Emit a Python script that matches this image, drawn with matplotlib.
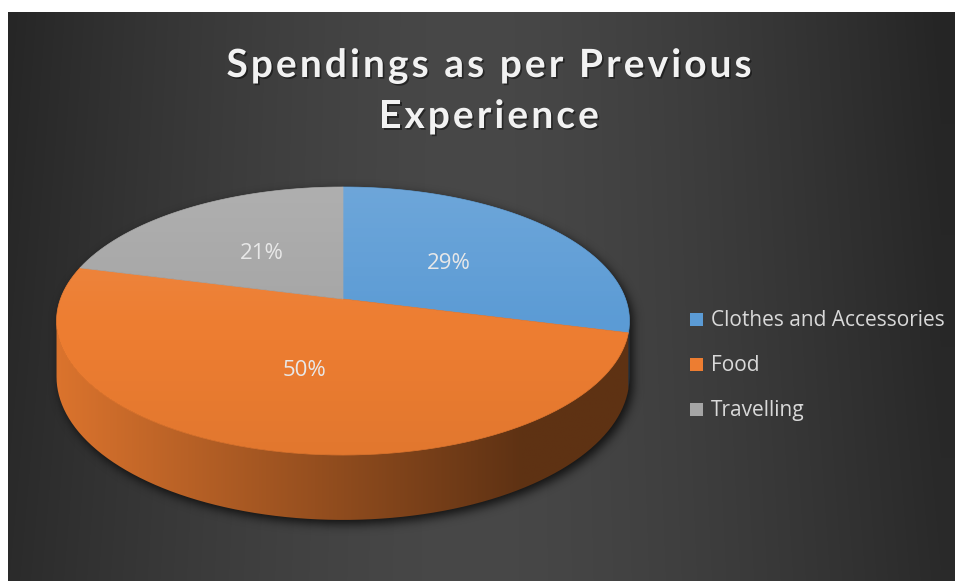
import numpy as np
import matplotlib
matplotlib.use("Agg")
import matplotlib.pyplot as plt
from matplotlib.path import Path
from matplotlib.patches import Polygon, Rectangle
from matplotlib.font_manager import FontProperties
import matplotlib.patheffects as pe

# spending shares (percent) per category
categories = ["Clothes and Accessories", "Food", "Travelling"]
shares = [29, 50, 21]
colors = ["#5B9BD5", "#ED7D31", "#A5A5A5"]
title_lines = ["Spendings as per Previous", "Experience"]

W, H = 955, 581
fig = plt.figure(figsize=(W / 100, H / 100), dpi=100)
fig.patch.set_facecolor("white")
ax = fig.add_axes([0, 0, 1, 1])
ax.axis("off")

# dark chart area, brightest in the middle and fading to the sides
x0, y0 = 8, 12
gx, gy = np.meshgrid(np.arange(x0, W) + 0.5, np.arange(y0, H) + 0.5)
t = np.clip(np.abs(gx - 470) / 470, 0, 1) ** 1.5
v = (0x48 - (0x48 - 0x25) * t) / 255 + 0.02 * (gy - y0) / (H - y0) * t
ax.imshow(np.dstack([v] * 3), extent=(x0, W, H, y0), aspect="auto",
          interpolation="bilinear", zorder=0)

# 3-D pie geometry (pixel space, perspective on the disk plane)
cx, cy = 343, 299
A, S, K = 282.6, 130.4, 0.164
DEPTH = 54.3


def proj(theta, r=1.0, z=0.0):
    px = r * np.sin(theta)
    py = r * np.cos(theta)
    d = 1 + K * py
    return cx + A * px / d, cy - (S * py + z) / d


def arc(a, b, z=0.0, n=200):
    th = np.linspace(a, b, max(int(n * (b - a) / (2 * np.pi)), 2) + 1)
    x, y = proj(th, 1.0, z)
    return np.column_stack([x, y])


fr = np.array(shares, dtype=float) / sum(shares)
edges = np.concatenate([[0], np.cumsum(fr)]) * 2 * np.pi
vis_a = np.arccos(-K)
vis_b = 2 * np.pi - vis_a

# soft drop shadow under the whole pie
outline = np.vstack([arc(vis_b - 2 * np.pi, vis_a), arc(vis_a, vis_b, -DEPTH)])
sil = Path(outline)
fx, fy = np.meshgrid(np.arange(W) + 0.5, np.arange(H) + 0.5)
mask = sil.contains_points(np.column_stack([fx.ravel() - 3, fy.ravel() - 4]))
mask = mask.reshape(H, W).astype(float)
sig = 5.0
r = int(3 * sig)
kern = np.exp(-0.5 * (np.arange(-r, r + 1) / sig) ** 2)
kern /= kern.sum()
mask = np.apply_along_axis(lambda m: np.convolve(m, kern, mode="same"), 0, mask)
mask = np.apply_along_axis(lambda m: np.convolve(m, kern, mode="same"), 1, mask)
shadow = np.zeros((H, W, 4))
shadow[..., 3] = mask * 0.75
ax.imshow(shadow, extent=(0, W, H, 0), aspect="auto", zorder=1)

# side walls, shaded from light on the left to dark on the right
xs = np.linspace(50, 640, 300)
shade = np.clip(0.92 - 0.52 * (xs - 60) / 460, 0.4, 0.92)
for i in range(len(shares)):
    a = max(edges[i], vis_a)
    b = min(edges[i + 1], vis_b)
    if b <= a:
        continue
    wall = np.vstack([arc(a, b), arc(a, b, -DEPTH)[::-1]])
    poly = Polygon(wall, closed=True, facecolor="none", edgecolor="none", zorder=2)
    ax.add_patch(poly)
    base = np.array(matplotlib.colors.to_rgb(colors[i]))
    grad = shade[None, :, None] * base[None, None, :]
    im = ax.imshow(grad, extent=(50, 640, 530, 300), aspect="auto",
                   interpolation="bilinear", zorder=2)
    im.set_clip_path(poly)

# top faces
for i in range(len(shares)):
    face = np.vstack([[cx, cy], arc(edges[i], edges[i + 1]), [cx, cy]])
    ax.add_patch(Polygon(face, closed=True, facecolor=colors[i],
                         edgecolor=colors[i], linewidth=0.5, zorder=3))

# light from above on the top surface
top = Polygon(arc(0, 2 * np.pi), closed=True, facecolor="none",
              edgecolor="none", zorder=4)
ax.add_patch(top)
ly = np.linspace(180, 460, 200)
lit = np.zeros((200, 1, 4))
up = np.clip((330 - ly) / 150, 0, 1)
down = np.clip((ly - 330) / 130, 0, 1)
lit[:, 0, :3] = np.where(up > 0, 1.0, 0.0)[:, None]
lit[:, 0, 3] = 0.12 * up + 0.05 * down
im = ax.imshow(lit, extent=(50, 640, 460, 180), aspect="auto",
               interpolation="bilinear", zorder=4)
im.set_clip_path(top)

# percentage labels at mid-angle of each slice
for i in range(len(shares)):
    mid = 0.5 * (edges[i] + edges[i + 1])
    lx, ly_ = proj(mid, 0.5)
    ax.text(lx, ly_ + 3, f"{shares[i]}%", ha="center", va="center",
            fontsize=16, family="Open Sans", color="#E8E8E8", zorder=6)

# title, drawn glyph by glyph to get the wide letter spacing
renderer = fig.canvas.get_renderer()
tprop = FontProperties(family="Lato", weight="bold", size=28)


def wpx(s):
    return renderer.get_text_width_height_descent(s, tprop, ismath=False)[0]


def advance(ch):
    return wpx("H" + ch + "H") - wpx("HH")


line_width = 525
adv0 = [advance(c) for c in title_lines[0]]
gap = max(0.0, (line_width - sum(adv0)) / (len(title_lines[0]) - 1))
shadow_fx = [pe.SimplePatchShadow(offset=(1.2, -1.2), shadow_rgbFace="black", alpha=0.45),
             pe.Normal()]
for j, line in enumerate(title_lines):
    adv = [advance(c) for c in line]
    total = sum(adv) + gap * (len(line) - 1)
    xpos = 489 - total / 2
    for ch, a in zip(line, adv):
        ax.text(xpos, 77 + 51 * j, ch, ha="left", va="baseline",
                fontproperties=tprop, color="#F2F2F2",
                path_effects=shadow_fx, zorder=6)
        xpos += a + gap

# legend
for i, name in enumerate(categories):
    yb = 326 + 45 * i
    ax.add_patch(Rectangle((690, yb - 13), 13, 13, facecolor=colors[i],
                           edgecolor="none", zorder=6))
    ax.text(711, yb, name, ha="left", va="baseline", fontsize=15,
            family="Open Sans", color="#D9D9D9", zorder=6)

ax.set_xlim(0, W)
ax.set_ylim(H, 0)
fig.savefig("out.png", dpi=100, facecolor="white")
